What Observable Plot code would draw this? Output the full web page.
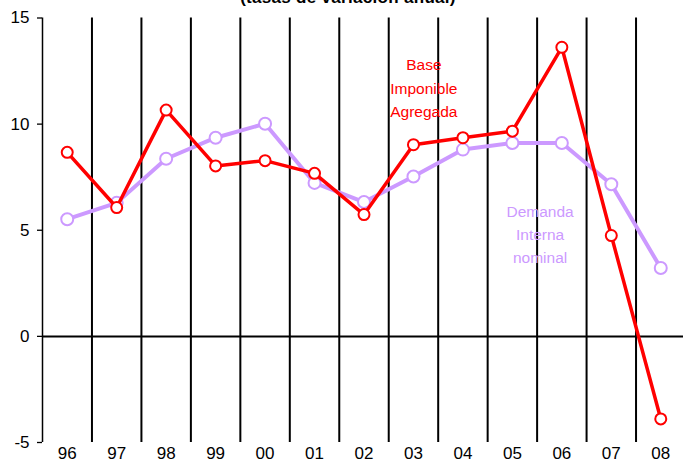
<!DOCTYPE html>
<html>
<head>
<meta charset="utf-8">
<script src="https://cdn.jsdelivr.net/npm/d3@7"></script>
<script src="https://cdn.jsdelivr.net/npm/@observablehq/plot@0.6"></script>
<style>
  body { margin: 0; background: #fff; overflow: hidden; }
  #wrap { position: relative; width: 683px; height: 464px; overflow: hidden; font-family: Arial, "Liberation Sans", sans-serif; }
  #title { position: absolute; top: -12px; left: 0; width: 696px; text-align: center; font-weight: bold; font-size: 17px; letter-spacing: 0.3px; color: #000; z-index: 2; }
  svg { display: block; }
</style>
</head>
<body>
<div id="wrap"><div id="title">(tasas de variación anual)</div></div>
<script>
const years = ["96","97","98","99","00","01","02","03","04","05","06","07","08"];
const baseImponible = [8.67, 6.07, 10.66, 8.03, 8.28, 7.68, 5.74, 9.03, 9.36, 9.67, 13.62, 4.75, -3.89];
const demandaInterna = [5.52, 6.29, 8.37, 9.36, 10.02, 7.23, 6.33, 7.53, 8.8, 9.11, 9.11, 7.17, 3.22];
const yTicks = [-5, 0, 5, 10, 15];
const labelBase = "Base\nImponible\nAgregada";
const labelDemanda = "Demanda\nInterna\nnominal";

const red = "#ff0000";
const purple = "#cc99ff";

const baseData = years.map((y, i) => ({i, v: baseImponible[i]}));
const demData = years.map((y, i) => ({i, v: demandaInterna[i]}));
const dividers = years.slice(1).map((y, i) => i + 0.5);

const chart = Plot.plot({
  width: 683,
  height: 464,
  marginLeft: 42,
  marginRight: 0,
  marginTop: 17.5,
  marginBottom: 22,
  style: {fontFamily: "Arial, 'Liberation Sans', sans-serif", background: "white", overflow: "hidden"},
  x: {type: "linear", domain: [-0.5, years.length - 0.5], range: [42, 685], axis: null},
  y: {domain: [-5, 15], axis: null},
  marks: [
    Plot.ruleX(dividers, {x: d => d, y1: -5, y2: 15, stroke: "black", strokeWidth: 2}),
    Plot.ruleY([0], {x1: -0.5, x2: years.length - 0.5, stroke: "black", strokeWidth: 2}),
    Plot.axisY(yTicks, {anchor: "left", tickSize: 5, tickPadding: 8, fontSize: 17, stroke: "black", strokeWidth: 1.3, fill: "black", label: null, tickFormat: d => String(d)}),
    Plot.ruleX([-0.5], {y1: -5, y2: 15, stroke: "black", strokeWidth: 1.5}),
    Plot.axisX(d3.range(years.length), {anchor: "bottom", tickSize: 0, tickPadding: 4, fontSize: 17, tickFormat: i => years[i], fill: "black", label: null}),
    Plot.line(demData, {x: "i", y: "v", stroke: purple, strokeWidth: 4}),
    Plot.dot(demData, {x: "i", y: "v", r: 6, stroke: purple, strokeWidth: 2, fill: "white"}),
    Plot.line(baseData, {x: "i", y: "v", stroke: red, strokeWidth: 3.5}),
    Plot.dot(baseData, {x: "i", y: "v", r: 5.5, stroke: red, strokeWidth: 2, fill: "white"}),
    Plot.text([labelBase], {x: 7.21, y: 11.8, text: d => d, fill: red, fontSize: 15.5, lineHeight: 1.53, textAnchor: "middle", style: "letter-spacing:0.6px"}),
    Plot.text([labelDemanda], {x: 9.56, y: 4.9, text: d => d, fill: purple, fontSize: 15.5, lineHeight: 1.5, textAnchor: "middle", style: "letter-spacing:1.2px"})
  ]
});
document.getElementById("wrap").appendChild(chart);
</script>
</body>
</html>
